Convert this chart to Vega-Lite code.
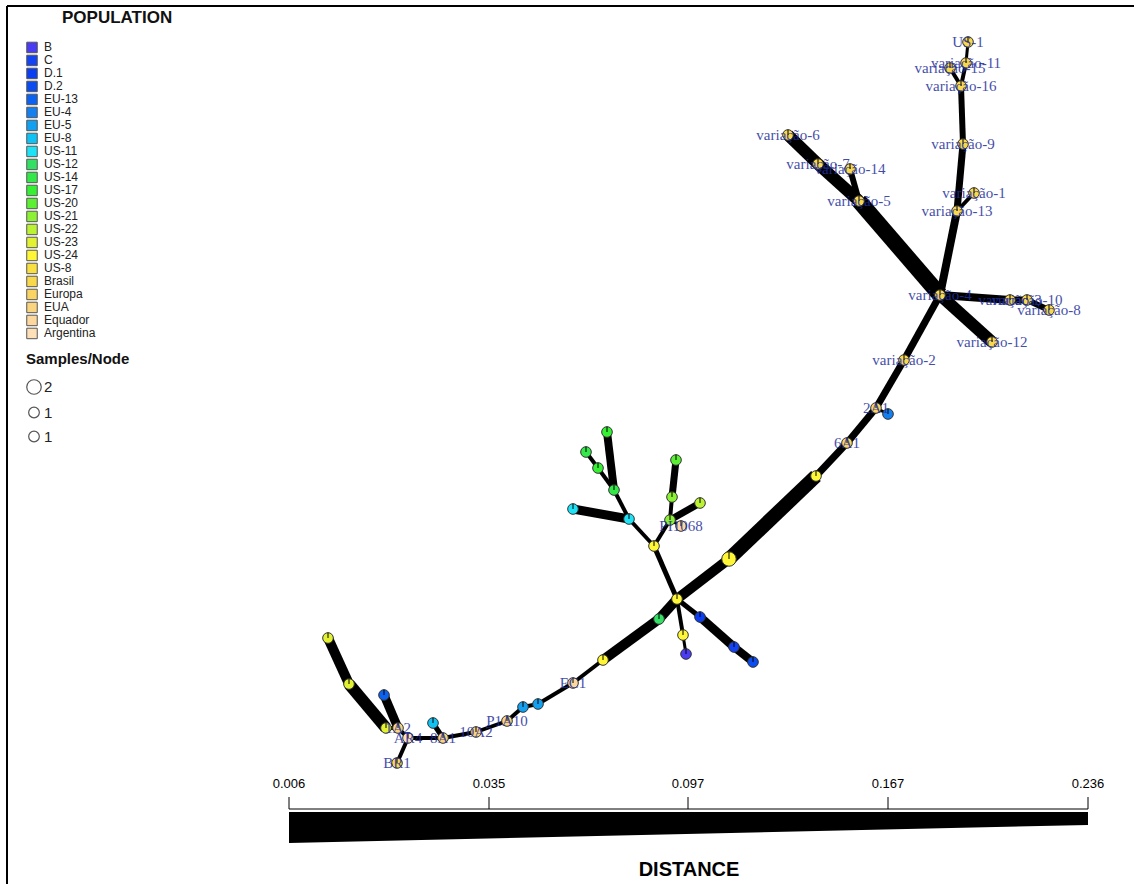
{
  "$schema": "https://vega.github.io/schema/vega-lite/v6.json",
  "width": 1134,
  "height": 884,
  "padding": 0,
  "autosize": "none",
  "background": "white",
  "config": {"view": {"stroke": null}},
  "datasets": {
    "nodes": [
      {"id": "US1", "x": 968, "y": 42, "pop": "Brasil", "n": 1, "label": "US-1"},
      {"id": "v11", "x": 966, "y": 63, "pop": "Brasil", "n": 1, "label": "variação-11"},
      {"id": "v15", "x": 950, "y": 68, "pop": "Brasil", "n": 1, "label": "variação-15"},
      {"id": "v16", "x": 961, "y": 86, "pop": "Brasil", "n": 1, "label": "variação-16"},
      {"id": "v9", "x": 963, "y": 144, "pop": "Brasil", "n": 1, "label": "variação-9"},
      {"id": "v1", "x": 974, "y": 193, "pop": "Brasil", "n": 1, "label": "variação-1"},
      {"id": "v13", "x": 957, "y": 211, "pop": "Brasil", "n": 1, "label": "variação-13"},
      {"id": "v4", "x": 940, "y": 295, "pop": "Brasil", "n": 1, "label": "variação-4"},
      {"id": "v3", "x": 1010, "y": 300, "pop": "Brasil", "n": 1, "label": "variação-3"},
      {"id": "v10", "x": 1027, "y": 300, "pop": "Brasil", "n": 1, "label": "variação-10"},
      {"id": "v8", "x": 1049, "y": 310, "pop": "Brasil", "n": 1, "label": "variação-8"},
      {"id": "v12", "x": 992, "y": 342, "pop": "Brasil", "n": 1, "label": "variação-12"},
      {"id": "v6", "x": 788, "y": 135, "pop": "Brasil", "n": 1, "label": "variação-6"},
      {"id": "v7", "x": 818, "y": 164, "pop": "Brasil", "n": 1, "label": "variação-7"},
      {"id": "v14", "x": 850, "y": 169, "pop": "Brasil", "n": 1, "label": "variação-14"},
      {"id": "v5", "x": 859, "y": 201, "pop": "Brasil", "n": 1, "label": "variação-5"},
      {"id": "v2", "x": 904, "y": 360, "pop": "Brasil", "n": 1, "label": "variação-2"},
      {"id": "a2A1", "x": 876, "y": 408, "pop": "Europa", "n": 1, "label": "2A1"},
      {"id": "b4", "x": 888, "y": 414, "pop": "EU-4", "n": 1, "label": ""},
      {"id": "a6A1", "x": 847, "y": 443, "pop": "Europa", "n": 1, "label": "6A1"},
      {"id": "y1", "x": 816, "y": 476, "pop": "US-24", "n": 1, "label": ""},
      {"id": "ybig", "x": 729, "y": 559, "pop": "US-24", "n": 2, "label": ""},
      {"id": "cen", "x": 677, "y": 599, "pop": "US-24", "n": 1, "label": ""},
      {"id": "g1", "x": 659, "y": 619, "pop": "US-12", "n": 1, "label": ""},
      {"id": "y3", "x": 603, "y": 660, "pop": "US-24", "n": 1, "label": ""},
      {"id": "EC1", "x": 573, "y": 683, "pop": "Equador", "n": 1, "label": "EC1"},
      {"id": "b5a", "x": 538, "y": 704, "pop": "EU-5", "n": 1, "label": ""},
      {"id": "b5b", "x": 523, "y": 707, "pop": "EU-5", "n": 1, "label": ""},
      {"id": "P1", "x": 507, "y": 721, "pop": "EUA", "n": 1, "label": "P1A10"},
      {"id": "a10A2", "x": 476, "y": 732, "pop": "EUA", "n": 1, "label": "10A2"},
      {"id": "a8A1", "x": 443, "y": 738, "pop": "EUA", "n": 1, "label": "8A1"},
      {"id": "c8", "x": 433, "y": 723, "pop": "EU-8", "n": 1, "label": ""},
      {"id": "AR4", "x": 408, "y": 738, "pop": "Argentina", "n": 1, "label": "AR4"},
      {"id": "a1A2", "x": 398, "y": 728, "pop": "EUA", "n": 1, "label": "1A2"},
      {"id": "y23a", "x": 386, "y": 728, "pop": "US-23", "n": 1, "label": ""},
      {"id": "b13", "x": 384, "y": 695, "pop": "EU-13", "n": 1, "label": ""},
      {"id": "y23b", "x": 349, "y": 684, "pop": "US-23", "n": 1, "label": ""},
      {"id": "y23c", "x": 328, "y": 638, "pop": "US-23", "n": 1, "label": ""},
      {"id": "BR1", "x": 397, "y": 763, "pop": "Brasil", "n": 1, "label": "BR1"},
      {"id": "ym", "x": 654, "y": 546, "pop": "US-24", "n": 1, "label": ""},
      {"id": "c11a", "x": 629, "y": 519, "pop": "US-11", "n": 1, "label": ""},
      {"id": "c11b", "x": 573, "y": 509, "pop": "US-11", "n": 1, "label": ""},
      {"id": "g14a", "x": 614, "y": 490, "pop": "US-14", "n": 1, "label": ""},
      {"id": "g14b", "x": 598, "y": 468, "pop": "US-17", "n": 1, "label": ""},
      {"id": "g14c", "x": 586, "y": 452, "pop": "US-14", "n": 1, "label": ""},
      {"id": "g17", "x": 607, "y": 432, "pop": "US-17", "n": 1, "label": ""},
      {"id": "g20", "x": 676, "y": 460, "pop": "US-20", "n": 1, "label": ""},
      {"id": "g21a", "x": 672, "y": 497, "pop": "US-21", "n": 1, "label": ""},
      {"id": "g21b", "x": 670, "y": 520, "pop": "US-21", "n": 1, "label": ""},
      {"id": "g22", "x": 700, "y": 503, "pop": "US-22", "n": 1, "label": ""},
      {"id": "PI", "x": 681, "y": 526, "pop": "Equador", "n": 1, "label": "PI1068"},
      {"id": "y24b", "x": 683, "y": 635, "pop": "US-24", "n": 1, "label": ""},
      {"id": "pB", "x": 686, "y": 654, "pop": "B", "n": 1, "label": ""},
      {"id": "d1", "x": 700, "y": 617, "pop": "D.1", "n": 1, "label": ""},
      {"id": "d2", "x": 734, "y": 647, "pop": "C", "n": 1, "label": ""},
      {"id": "d3", "x": 753, "y": 662, "pop": "D.2", "n": 1, "label": ""}
    ],
    "edges": [
      {"s": "v4", "t": "v13", "dist": 0.148},
      {"s": "v13", "t": "v9", "dist": 0.165},
      {"s": "v9", "t": "v16", "dist": 0.183},
      {"s": "v13", "t": "v1", "dist": 0.219},
      {"s": "v16", "t": "v11", "dist": 0.219},
      {"s": "v11", "t": "US1", "dist": 0.236},
      {"s": "v16", "t": "v15", "dist": 0.219},
      {"s": "v4", "t": "v5", "dist": 0.006},
      {"s": "v5", "t": "v7", "dist": 0.077},
      {"s": "v7", "t": "v6", "dist": 0.077},
      {"s": "v5", "t": "v14", "dist": 0.183},
      {"s": "v4", "t": "v12", "dist": 0.077},
      {"s": "v4", "t": "v3", "dist": 0.148},
      {"s": "v3", "t": "v10", "dist": 0.165},
      {"s": "v10", "t": "v8", "dist": 0.183},
      {"s": "v4", "t": "v2", "dist": 0.165},
      {"s": "v2", "t": "a2A1", "dist": 0.165},
      {"s": "a2A1", "t": "b4", "dist": 0.236},
      {"s": "a2A1", "t": "a6A1", "dist": 0.165},
      {"s": "a6A1", "t": "y1", "dist": 0.165},
      {"s": "y1", "t": "ybig", "dist": 0.041},
      {"s": "ybig", "t": "cen", "dist": 0.112},
      {"s": "cen", "t": "g1", "dist": 0.112},
      {"s": "g1", "t": "y3", "dist": 0.112},
      {"s": "y3", "t": "EC1", "dist": 0.219},
      {"s": "EC1", "t": "b5a", "dist": 0.219},
      {"s": "b5a", "t": "b5b", "dist": 0.219},
      {"s": "b5b", "t": "P1", "dist": 0.219},
      {"s": "P1", "t": "a10A2", "dist": 0.219},
      {"s": "a10A2", "t": "a8A1", "dist": 0.219},
      {"s": "a8A1", "t": "c8", "dist": 0.201},
      {"s": "a8A1", "t": "AR4", "dist": 0.219},
      {"s": "AR4", "t": "BR1", "dist": 0.219},
      {"s": "AR4", "t": "a1A2", "dist": 0.219},
      {"s": "a1A2", "t": "b13", "dist": 0.13},
      {"s": "a1A2", "t": "y23a", "dist": 0.219},
      {"s": "y23a", "t": "y23b", "dist": 0.077},
      {"s": "y23b", "t": "y23c", "dist": 0.112},
      {"s": "cen", "t": "ym", "dist": 0.201},
      {"s": "ym", "t": "c11a", "dist": 0.219},
      {"s": "c11a", "t": "g14a", "dist": 0.219},
      {"s": "g14a", "t": "g17", "dist": 0.148},
      {"s": "g14a", "t": "g14b", "dist": 0.219},
      {"s": "g14b", "t": "g14c", "dist": 0.219},
      {"s": "c11a", "t": "c11b", "dist": 0.13},
      {"s": "ym", "t": "g21b", "dist": 0.219},
      {"s": "g21b", "t": "g21a", "dist": 0.219},
      {"s": "g21a", "t": "g20", "dist": 0.165},
      {"s": "g21b", "t": "g22", "dist": 0.165},
      {"s": "g21b", "t": "PI", "dist": 0.236},
      {"s": "cen", "t": "y24b", "dist": 0.219},
      {"s": "y24b", "t": "pB", "dist": 0.236},
      {"s": "cen", "t": "d1", "dist": 0.201},
      {"s": "d1", "t": "d2", "dist": 0.13},
      {"s": "d2", "t": "d3", "dist": 0.148}
    ],
    "scaleticks": [
      {"pos": 289, "label": "0.006"},
      {"pos": 489, "label": "0.035"},
      {"pos": 688, "label": "0.097"},
      {"pos": 888, "label": "0.167"},
      {"pos": 1088, "label": "0.236"}
    ],
    "wedge": [
      {"pos": 289, "top": 812, "bottom": 843},
      {"pos": 1088, "top": 812, "bottom": 825}
    ],
    "frame": [
      {"x": 7, "y": 6, "x2": 1134, "y2": 6},
      {"x": 7, "y": 6, "x2": 7, "y2": 884}
    ]
  },
  "resolve": {"scale": {"size": "independent"}, "legend": {"size": "independent"}},
  "layer": [
    {
      "data": {"name": "frame"},
      "mark": {"type": "rule", "color": "black", "strokeWidth": 2},
      "encoding": {
        "x": {"field": "x", "type": "quantitative", "scale": {"domain": [0, 1134], "nice": false, "zero": false}, "axis": null},
        "y": {"field": "y", "type": "quantitative", "scale": {"domain": [0, 884], "nice": false, "zero": false, "reverse": true}, "axis": null},
        "x2": {"field": "x2"},
        "y2": {"field": "y2"}
      }
    },
    {
      "data": {"name": "edges"},
      "transform": [
        {"lookup": "s", "from": {"data": {"name": "nodes"}, "key": "id", "fields": ["x", "y"]}, "as": ["sx", "sy"]},
        {"lookup": "t", "from": {"data": {"name": "nodes"}, "key": "id", "fields": ["x", "y"]}, "as": ["tx", "ty"]}
      ],
      "mark": {"type": "rule", "color": "black", "strokeCap": "butt"},
      "encoding": {
        "x": {"field": "sx", "type": "quantitative", "axis": null},
        "y": {"field": "sy", "type": "quantitative", "axis": null},
        "x2": {"field": "tx"},
        "y2": {"field": "ty"},
        "strokeWidth": {"field": "dist", "type": "quantitative", "scale": {"domain": [0.006, 0.236], "range": [16, 3]}, "legend": null}
      }
    },
    {
      "data": {"name": "nodes"},
      "mark": {"type": "point", "shape": "circle", "filled": true, "opacity": 1, "stroke": "#333333", "strokeWidth": 1},
      "encoding": {
        "x": {"field": "x", "type": "quantitative", "axis": null},
        "y": {"field": "y", "type": "quantitative", "axis": null},
        "color": {
          "field": "pop", "type": "nominal",
          "scale": {
            "domain": ["B", "C", "D.1", "D.2", "EU-13", "EU-4", "EU-5", "EU-8", "US-11", "US-12", "US-14", "US-17", "US-20", "US-21", "US-22", "US-23", "US-24", "US-8", "Brasil", "Europa", "EUA", "Equador", "Argentina"],
            "range": ["#4a3cf2", "#1444f2", "#0a3ef0", "#0a4cf0", "#0c62f0", "#1480f0", "#12a0f0", "#10c2f4", "#1ee2f6", "#34e064", "#34e84a", "#36f034", "#5cf034", "#8cf034", "#bcf234", "#e2f232", "#fff636", "#f8e042", "#fad84c", "#fad462", "#fad47e", "#fcd89e", "#fde0b8"]
          },
          "legend": {
            "orient": "none", "legendX": 26, "legendY": 10, "padding": 0,
            "title": "POPULATION", "titleFont": "Liberation Sans", "titleFontSize": 17, "titleFontWeight": "bold", "titleColor": "#111111",
            "titleAnchor": "start", "titlePadding": 14,
            "symbolType": "square", "symbolSize": 110, "symbolStrokeColor": "#555555", "symbolStrokeWidth": 1, "symbolOpacity": 1,
            "labelFont": "Liberation Sans", "labelFontSize": 12, "labelColor": "#222222", "labelOffset": 6,
            "rowPadding": 0, "clipHeight": 12.9,
            "encode": {
              "title": {"update": {"dx": {"value": 36}}},
              "symbols": {"update": {"size": {"value": 110}, "strokeWidth": {"value": 1}}}
            }
          }
        },
        "size": {
          "field": "n", "type": "quantitative",
          "scale": {"domain": [1, 2], "range": [113, 210]},
          "legend": {
            "orient": "none", "legendX": 26, "legendY": 352, "padding": 0,
            "title": "Samples/Node", "titleFont": "Liberation Sans", "titleFontSize": 15, "titleFontWeight": "bold", "titleColor": "#111111",
            "titleAnchor": "start", "titlePadding": 12,
            "values": [2, 1.01, 1], "format": ".0f",
            "symbolType": "circle", "symbolFillColor": "white", "symbolStrokeColor": "#555555", "symbolStrokeWidth": 1.2,
            "labelFont": "Liberation Sans", "labelFontSize": 15, "labelColor": "#222222", "labelOffset": 2,
            "rowPadding": 7,
            "encode": {"title": {"update": {"dx": {"value": 31}}}, "symbols": {"update": {"fill": {"value": "white"}, "stroke": {"value": "#555555"}}}}
          }
        }
      }
    },
    {
      "data": {"name": "nodes"},
      "mark": {"type": "point", "shape": "M0,0L0,-1", "filled": false, "color": "black", "strokeWidth": 1, "opacity": 1},
      "encoding": {
        "x": {"field": "x", "type": "quantitative", "axis": null},
        "y": {"field": "y", "type": "quantitative", "axis": null},
        "size": {"field": "n", "type": "quantitative", "scale": {"domain": [1, 2], "range": [113, 210]}, "legend": null}
      }
    },
    {
      "data": {"name": "nodes"},
      "transform": [{"filter": "datum.label != ''"}],
      "mark": {"type": "text", "font": "Liberation Serif", "fontSize": 15, "color": "#1f2f9c", "opacity": 0.85, "align": "center", "baseline": "middle"},
      "encoding": {
        "x": {"field": "x", "type": "quantitative", "axis": null},
        "y": {"field": "y", "type": "quantitative", "axis": null},
        "text": {"field": "label"}
      }
    },
    {
      "data": {"name": "wedge"},
      "mark": {"type": "area", "color": "black", "opacity": 1},
      "encoding": {
        "x": {"field": "pos", "type": "quantitative", "axis": null},
        "y": {"field": "top", "type": "quantitative", "axis": null},
        "y2": {"field": "bottom"}
      }
    },
    {
      "data": {"name": "wedge"},
      "mark": {"type": "line", "color": "black", "strokeWidth": 1},
      "encoding": {
        "x": {"field": "pos", "type": "quantitative", "axis": null},
        "y": {"datum": 809, "type": "quantitative"}
      }
    },
    {
      "data": {"name": "scaleticks"},
      "mark": {"type": "rule", "color": "black", "strokeWidth": 1},
      "encoding": {
        "x": {"field": "pos", "type": "quantitative", "axis": null},
        "y": {"datum": 797, "type": "quantitative"},
        "y2": {"datum": 809}
      }
    },
    {
      "data": {"name": "scaleticks"},
      "mark": {"type": "text", "font": "Liberation Sans", "fontSize": 13, "color": "black", "align": "center", "baseline": "middle"},
      "encoding": {
        "x": {"field": "pos", "type": "quantitative", "axis": null},
        "y": {"datum": 784, "type": "quantitative"},
        "text": {"field": "label"}
      }
    },
    {
      "data": {"values": [{"caption": "DISTANCE"}]},
      "mark": {"type": "text", "font": "Liberation Sans", "fontSize": 20, "fontWeight": "bold", "color": "black", "align": "center", "baseline": "middle"},
      "encoding": {
        "x": {"datum": 689, "type": "quantitative"},
        "y": {"datum": 870, "type": "quantitative"},
        "text": {"field": "caption"}
      }
    }
  ]
}
